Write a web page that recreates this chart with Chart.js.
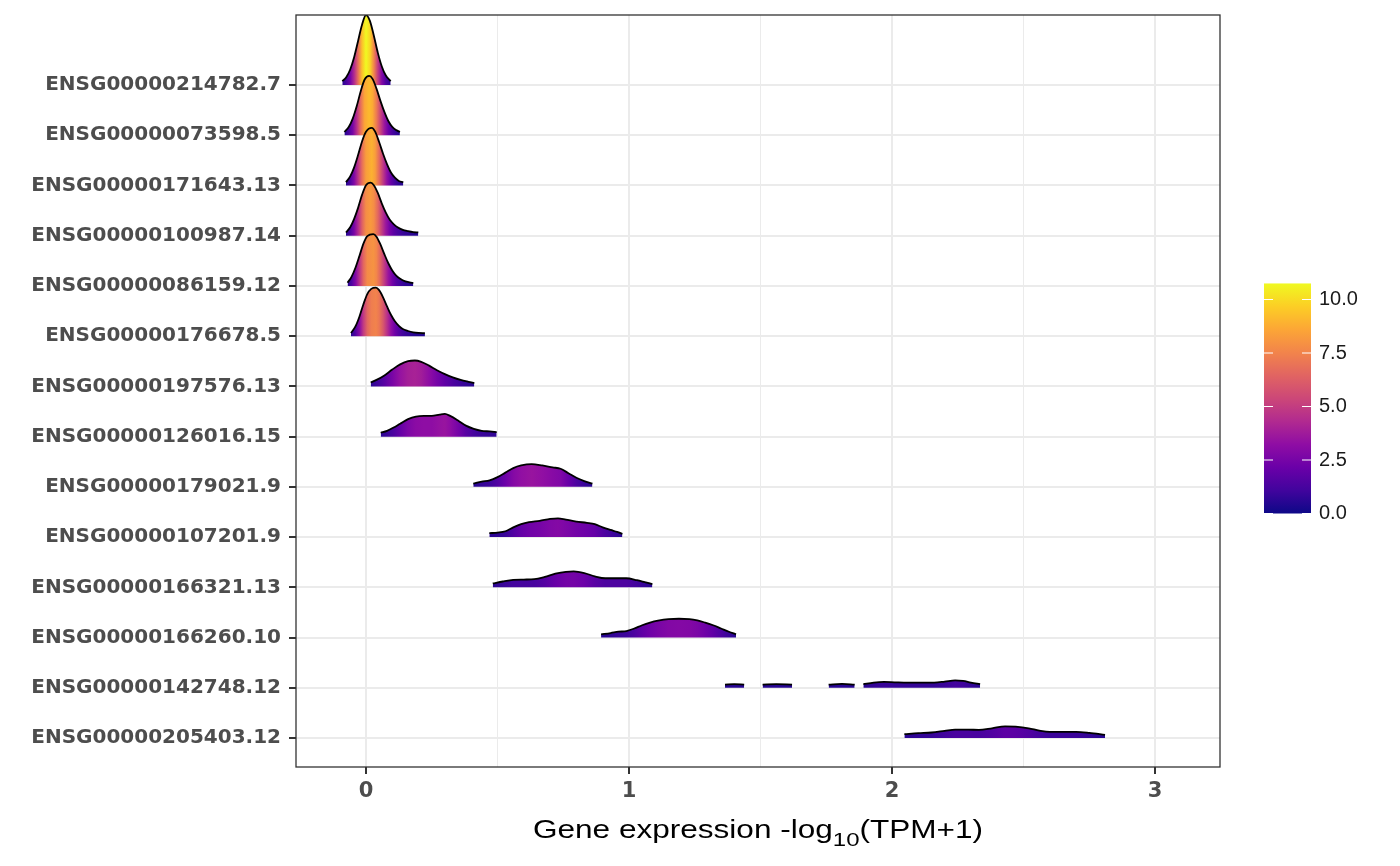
<!DOCTYPE html>
<html>
<head>
<meta charset="utf-8">
<title>Gene expression ridges</title>
<script src="https://cdn.jsdelivr.net/npm/chart.js@4.4.1/dist/chart.umd.min.js"></script>
<style>
  html, body { margin: 0; padding: 0; background: #fff; }
  #wrap { width: 1400px; height: 866px; }
</style>
</head>
<body>
<div id="wrap"><canvas id="ridges"></canvas></div>
<script>
// genes, top row first
const geneNames = [
  'ENSG00000214782.7', 'ENSG00000073598.5', 'ENSG00000171643.13', 'ENSG00000100987.14',
  'ENSG00000086159.12', 'ENSG00000176678.5', 'ENSG00000197576.13', 'ENSG00000126016.15',
  'ENSG00000179021.9', 'ENSG00000107201.9', 'ENSG00000166321.13', 'ENSG00000166260.10',
  'ENSG00000142748.12', 'ENSG00000205403.12'
];

const xs01 = [-0.090, -0.075, -0.060, -0.045, -0.030, -0.015, 0.000, 0.015, 0.030, 0.045, 0.060, 0.075, 0.094];
const d01 = [0.6, 1.2, 2.4, 4.3, 6.8, 9.3, 10.8, 9.9, 7.6, 5.0, 2.9, 1.5, 0.6];

const xs02 = [-0.082, -0.065, -0.050, -0.035, -0.020, -0.005, 0.012, 0.025, 0.040, 0.055, 0.070, 0.085, 0.100, 0.115, 0.129];
const d02 = [0.5, 1.3, 2.6, 4.5, 6.8, 8.6, 9.15, 8.7, 7.2, 5.3, 3.6, 2.2, 1.3, 0.8, 0.5];

const xs03 = [-0.076, -0.060, -0.045, -0.030, -0.015, 0.000, 0.022, 0.035, 0.050, 0.065, 0.080, 0.095, 0.110, 0.125, 0.142];
const d03 = [0.5, 1.4, 2.8, 4.7, 6.8, 8.3, 8.9, 8.3, 6.7, 4.9, 3.3, 2.0, 1.2, 0.7, 0.5];

const xs04 = [-0.076, -0.060, -0.045, -0.030, -0.015, 0.000, 0.018, 0.030, 0.045, 0.060, 0.075, 0.090, 0.105, 0.120, 0.140, 0.160, 0.180, 0.199];
const d04 = [0.5, 1.3, 2.6, 4.3, 6.3, 7.8, 8.2, 7.8, 6.6, 5.0, 3.6, 2.5, 1.8, 1.3, 0.9, 0.7, 0.55, 0.5];

const xs05 = [-0.070, -0.055, -0.040, -0.025, -0.010, 0.005, 0.028, 0.040, 0.055, 0.070, 0.085, 0.100, 0.115, 0.130, 0.150, 0.180];
const d05 = [0.5, 1.4, 2.8, 4.6, 6.5, 7.7, 8.0, 7.6, 6.4, 4.9, 3.5, 2.4, 1.6, 1.1, 0.7, 0.45];

const xs06 = [-0.057, -0.040, -0.025, -0.010, 0.005, 0.020, 0.038, 0.050, 0.065, 0.080, 0.095, 0.110, 0.125, 0.140, 0.160, 0.180, 0.200, 0.224];
const d06 = [0.5, 1.5, 3.0, 4.9, 6.5, 7.3, 7.5, 7.1, 6.0, 4.6, 3.3, 2.3, 1.6, 1.1, 0.8, 0.6, 0.5, 0.45];

const xs07 = [0.018, 0.040, 0.070, 0.100, 0.130, 0.160, 0.186, 0.210, 0.240, 0.270, 0.300, 0.330, 0.360, 0.390, 0.412];
const d07 = [0.6, 1.0, 1.7, 2.6, 3.4, 3.9, 4.0, 3.8, 3.2, 2.5, 1.9, 1.4, 1.0, 0.7, 0.5];

const xs08 = [0.056, 0.080, 0.105, 0.130, 0.160, 0.190, 0.220, 0.250, 0.280, 0.300, 0.320, 0.350, 0.380, 0.410, 0.440, 0.470, 0.497];
const d08 = [0.6, 0.9, 1.4, 2.0, 2.7, 3.1, 3.2, 3.2, 3.4, 3.5, 3.2, 2.5, 1.7, 1.2, 0.9, 0.8, 0.7];

const xs09 = [0.408, 0.440, 0.470, 0.500, 0.530, 0.560, 0.590, 0.630, 0.670, 0.710, 0.740, 0.770, 0.800, 0.830, 0.861];
const d09 = [0.5, 0.8, 1.0, 1.5, 2.2, 2.9, 3.3, 3.5, 3.3, 3.0, 2.8, 2.1, 1.4, 0.9, 0.5];

const xs10 = [0.469, 0.500, 0.530, 0.560, 0.590, 0.620, 0.660, 0.700, 0.730, 0.760, 0.800, 0.840, 0.870, 0.900, 0.930, 0.955, 0.975];
const d10 = [0.6, 0.7, 0.9, 1.5, 2.0, 2.3, 2.5, 2.8, 2.9, 2.7, 2.4, 2.2, 2.0, 1.5, 1.1, 0.8, 0.5];

const xs11 = [0.482, 0.520, 0.560, 0.600, 0.640, 0.680, 0.720, 0.760, 0.790, 0.830, 0.870, 0.910, 0.950, 0.990, 1.030, 1.060, 1.089];
const d11 = [0.6, 0.9, 1.15, 1.2, 1.25, 1.6, 2.1, 2.4, 2.45, 2.2, 1.7, 1.4, 1.4, 1.4, 1.1, 0.8, 0.5];

const xs12 = [0.894, 0.930, 0.960, 0.990, 1.020, 1.050, 1.080, 1.110, 1.150, 1.190, 1.230, 1.260, 1.290, 1.320, 1.350, 1.380, 1.407];
const d12 = [0.5, 0.7, 0.9, 1.0, 1.4, 1.9, 2.3, 2.6, 2.85, 2.9, 2.85, 2.65, 2.3, 1.9, 1.4, 0.9, 0.5];

const xs13 = [1.365, 1.400, 1.438, 1.470, 1.508, 1.560, 1.620, 1.690, 1.759, 1.810, 1.858, 1.875,
              1.891, 1.930, 1.970, 2.010, 2.060, 2.110, 2.160, 2.200, 2.240, 2.270, 2.300, 2.335];
const d13 = [0.5, 0.55, 0.5, null, 0.5, 0.55, 0.5, null, 0.5, 0.6, 0.5, null,
             0.55, 0.8, 0.9, 0.85, 0.8, 0.8, 0.8, 0.95, 1.15, 1.05, 0.8, 0.55];

const xs14 = [2.047, 2.100, 2.150, 2.200, 2.240, 2.290, 2.330, 2.380, 2.430, 2.470, 2.520, 2.560, 2.600, 2.650, 2.700, 2.750, 2.810];
const d14 = [0.6, 0.75, 0.85, 1.1, 1.3, 1.3, 1.25, 1.5, 1.8, 1.75, 1.5, 1.15, 0.95, 0.95, 0.95, 0.8, 0.5];

const ridgeX = [xs01, xs02, xs03, xs04, xs05, xs06, xs07, xs08, xs09, xs10, xs11, xs12, xs13, xs14];
const ridgeD = [d01, d02, d03, d04, d05, d06, d07, d08, d09, d10, d11, d12, d13, d14];

const xTicks = [0, 0.5, 1, 1.5, 2, 2.5, 3];
const legendTicks = [0, 2.5, 5, 7.5, 10];
const colorMax = 10.75;
const heightPerDensity = 0.129; // rows per density unit

const plasmaStops = ['#0d0887', '#41049d', '#6a00a8', '#8f0da4', '#b12a90', '#cc4778',
                     '#e16462', '#f2844b', '#fca636', '#fcce25', '#f0f921'];

function hexToRgb(h) {
  return [parseInt(h.slice(1, 3), 16), parseInt(h.slice(3, 5), 16), parseInt(h.slice(5, 7), 16)];
}

function plasma(t) {
  t = Math.max(0, Math.min(1, t));
  const p = t * (plasmaStops.length - 1);
  const i = Math.min(Math.floor(p), plasmaStops.length - 2);
  const f = p - i;
  const a = hexToRgb(plasmaStops[i]), b = hexToRgb(plasmaStops[i + 1]);
  const c = a.map((v, k) => Math.round(v + (b[k] - v) * f));
  return `rgb(${c[0]},${c[1]},${c[2]})`;
}

// horizontal fill gradient coloured by density along the ridge
function ridgeGradient(context) {
  const chart = context.chart;
  const ds = context.dataset;
  if (!chart.chartArea || !ds) return plasma(0.1);
  const xs = chart.scales.x;
  const x0 = xs.getPixelForValue(ds.segX[0]);
  const x1 = xs.getPixelForValue(ds.segX[ds.segX.length - 1]);
  if (x1 - x0 < 1) return plasma(ds.segD[0] / colorMax);
  const g = chart.ctx.createLinearGradient(x0, 0, x1, 0);
  ds.segX.forEach((v, i) => {
    g.addColorStop((xs.getPixelForValue(v) - x0) / (x1 - x0), plasma(ds.segD[i] / colorMax));
  });
  return g;
}

function buildDatasets() {
  const datasets = [];
  // bottom row first so lower ridges are drawn over upper ones
  for (let i = geneNames.length - 1; i >= 0; i--) {
    const row = geneNames.length - 1 - i;
    let segX = [], segD = [];
    const flush = () => {
      if (segX.length > 1) {
        datasets.push({
          label: geneNames[i],
          segX: segX,
          segD: segD,
          data: segX.map((x, j) => ({ x: x, y: row + segD[j] * heightPerDensity })),
          fill: { value: row },
          backgroundColor: ridgeGradient,
          borderColor: '#000000',
          borderWidth: 1.8,
          pointRadius: 0,
          cubicInterpolationMode: 'monotone'
        });
      }
      segX = []; segD = [];
    };
    ridgeX[i].forEach((x, j) => {
      if (ridgeD[i][j] === null) { flush(); return; }
      segX.push(x); segD.push(ridgeD[i][j]);
    });
    flush();
  }
  return datasets;
}

const panelDecor = {
  id: 'panelDecor',
  afterDraw(chart) {
    const ctx = chart.ctx;
    const a = chart.chartArea;
    ctx.save();

    // panel border
    ctx.strokeStyle = '#333333';
    ctx.lineWidth = 1.3;
    ctx.strokeRect(a.left, a.top, a.right - a.left, a.bottom - a.top);

    // x axis title with subscript
    const part1 = 'Gene expression -log', sub = '10', part2 = '(TPM+1)';
    ctx.fillStyle = '#000000';
    ctx.textBaseline = 'alphabetic';
    ctx.font = '25px "Liberation Sans", Arial, sans-serif';
    const w1 = ctx.measureText(part1).width;
    const w3 = ctx.measureText(part2).width;
    ctx.font = '19px "Liberation Sans", Arial, sans-serif';
    const w2 = ctx.measureText(sub).width;
    const total = w1 + w2 + w3;
    const sx = 450 / total;
    ctx.save();
    ctx.translate((a.left + a.right) / 2 - 225, 838);
    ctx.scale(sx, 1);
    ctx.font = '25px "Liberation Sans", Arial, sans-serif';
    ctx.fillText(part1, 0, 0);
    ctx.fillText(part2, w1 + w2, 0);
    ctx.font = '19px "Liberation Sans", Arial, sans-serif';
    ctx.fillText(sub, w1, 8);
    ctx.restore();

    // colour bar legend
    const barL = 1264, barR = 1311, barBottom = 513.5, pxPerUnit = 21.4;
    const barTop = barBottom - colorMax * pxPerUnit;
    const grad = ctx.createLinearGradient(0, barBottom, 0, barTop);
    plasmaStops.forEach((c, i) => grad.addColorStop(i / (plasmaStops.length - 1), c));
    ctx.fillStyle = grad;
    ctx.fillRect(barL, barTop, barR - barL, barBottom - barTop);
    ctx.strokeStyle = '#ffffff';
    ctx.lineWidth = 1.2;
    ctx.font = '20px "Liberation Sans", Arial, sans-serif';
    ctx.fillStyle = '#1a1a1a';
    ctx.textAlign = 'left';
    ctx.textBaseline = 'middle';
    legendTicks.forEach(v => {
      const y = barBottom - v * pxPerUnit;
      ctx.beginPath();
      ctx.moveTo(barL, y); ctx.lineTo(barL + 9, y);
      ctx.moveTo(barR - 9, y); ctx.lineTo(barR, y);
      ctx.stroke();
      ctx.fillText(v.toFixed(1), 1319, y);
    });
    ctx.restore();
  }
};

new Chart(document.getElementById('ridges'), {
  type: 'line',
  data: { datasets: buildDatasets() },
  options: {
    responsive: true,
    maintainAspectRatio: false,
    animation: false,
    layout: { padding: { left: 0, top: 15, right: 180, bottom: 0 } },
    plugins: {
      legend: { display: false },
      tooltip: { enabled: false },
      title: { display: false }
    },
    scales: {
      x: {
        type: 'linear',
        min: -0.266,
        max: 3.247,
        afterBuildTicks: s => { s.ticks = xTicks.map(v => ({ value: v })); },
        afterFit: s => { s.height = 99; s.paddingLeft = 0; s.paddingRight = 0; },
        border: { display: false },
        grid: {
          color: '#ebebeb',
          lineWidth: c => (Number.isInteger(c.tick && c.tick.value) ? 2 : 1),
          tickColor: c => (Number.isInteger(c.tick && c.tick.value) ? '#333333' : 'rgba(0,0,0,0)'),
          tickWidth: 2,
          tickLength: 7
        },
        ticks: {
          autoSkip: false,
          maxRotation: 0,
          padding: 5,
          color: '#4d4d4d',
          font: { family: 'DejaVu Sans', weight: 'bold', size: 21 },
          callback: v => (Number.isInteger(v) ? String(v) : '')
        }
      },
      y: {
        type: 'linear',
        min: -0.577,
        max: 14.394,
        afterBuildTicks: s => { s.ticks = geneNames.map((_, i) => ({ value: geneNames.length - 1 - i })); },
        afterFit: s => { s.width = 296; s.paddingTop = 0; s.paddingBottom = 0; },
        border: { display: false },
        grid: {
          color: '#ebebeb',
          lineWidth: 2,
          tickColor: '#333333',
          tickWidth: 2,
          tickLength: 7
        },
        ticks: {
          autoSkip: false,
          padding: 8,
          color: '#4d4d4d',
          font: { family: 'DejaVu Sans', weight: 'bold', size: 20 },
          callback: v => geneNames[geneNames.length - 1 - Math.round(v)]
        }
      }
    }
  },
  plugins: [panelDecor]
});
</script>
</body>
</html>
